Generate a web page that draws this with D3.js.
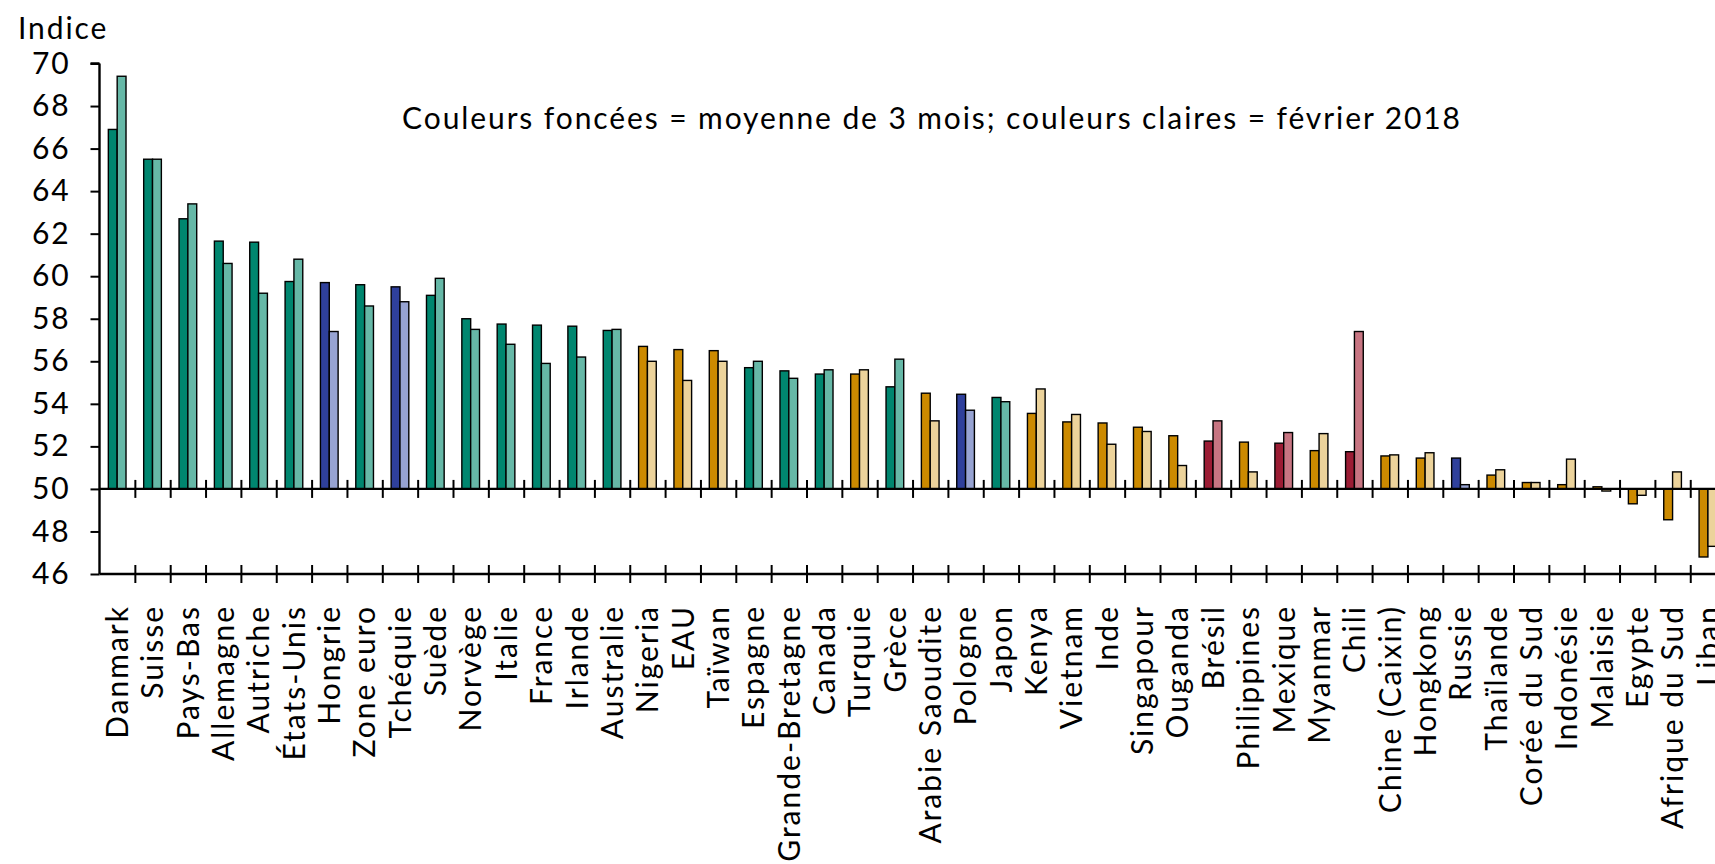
<!DOCTYPE html>
<html>
<head>
<meta charset="utf-8">
<script src="https://cdn.jsdelivr.net/npm/d3@7"></script>
<style>
  body { margin: 0; background: #fff; overflow: hidden; }
  svg { display: block; font-family: Lato, "Open Sans", sans-serif; }
</style>
</head>
<body>
<div id="chart"></div>
<script>
// pays, dans l'ordre du graphique
const pays = ["Danmark", "Suisse", "Pays-Bas", "Allemagne", "Autriche", "États-Unis", "Hongrie",
    "Zone euro", "Tchéquie", "Suède", "Norvège", "Italie", "France", "Irlande", "Australie",
    "Nigeria", "EAU", "Taïwan", "Espagne", "Grande-Bretagne", "Canada", "Turquie", "Grèce",
    "Arabie Saoudite", "Pologne", "Japon", "Kenya", "Vietnam", "Inde", "Singapour", "Ouganda",
    "Brésil", "Philippines", "Mexique", "Myanmar", "Chili", "Chine (Caixin)", "Hongkong",
    "Russie", "Thaïlande", "Corée du Sud", "Indonésie", "Malaisie", "Egypte", "Afrique du Sud", "Liban"];

// moyenne de 3 mois (couleurs foncées)
const moyenne3m = [66.9, 65.5, 62.7, 61.65, 61.6, 59.75, 59.7, 59.6, 59.5, 59.1, 58.0, 57.75, 57.7,
    57.65, 57.45, 56.7, 56.55, 56.5, 55.7, 55.55, 55.4, 55.4, 54.8, 54.5, 54.45, 54.3, 53.55,
    53.15, 53.1, 52.9, 52.5, 52.25, 52.2, 52.15, 51.8, 51.75, 51.55, 51.45, 51.45, 50.65, 50.3,
    50.2, 50.1, 49.3, 48.55, 46.8];

// février 2018 (couleurs claires)
const fevrier2018 = [69.4, 65.5, 63.4, 60.6, 59.2, 60.8, 57.4, 58.6, 58.8, 59.9, 57.5, 56.8, 55.9,
    56.2, 57.5, 56.0, 55.1, 56.0, 56.0, 55.2, 55.6, 55.6, 56.1, 53.2, 53.7, 54.1, 54.7,
    53.5, 52.1, 52.7, 51.1, 53.2, 50.8, 52.65, 52.6, 57.4, 51.6, 51.7, 50.2, 50.9, 50.3,
    51.4, 49.9, 49.7, 50.8, 47.3];

// groupe de couleur de chaque pays
const groupe = ["v", "v", "v", "v", "v", "v", "b", "v", "b", "v", "v", "v", "v", "v", "v",
    "o", "o", "o", "v", "v", "v", "o", "v", "o", "b", "v", "o", "o", "o", "o", "o",
    "r", "o", "r", "o", "r", "o", "o", "b", "o", "o", "o", "o", "o", "o", "o"];

const yTicks = [46, 48, 50, 52, 54, 56, 58, 60, 62, 64, 66, 68, 70];

const couleurs = {
    v: ["#00866f", "#66b8a7"],
    b: ["#2f409c", "#97a3d2"],
    o: ["#cc8a00", "#ecd39b"],
    r: ["#9b1c34", "#c77582"]
};

const width = 1715;
const height = 864;
const left = 99.5;
const step = 35.35;
const fontSize = 30;
const spacing = "1.9px";

const svg = d3.select("#chart").append("svg")
    .attr("width", width)
    .attr("height", height);

// scales
const x = d3.scaleBand()
    .domain(pays)
    .range([left, left + step * pays.length])
    .paddingInner(0)
    .paddingOuter(0);

const xSub = d3.scaleBand()
    .domain([0, 1])
    .range([0, x.bandwidth()])
    .paddingOuter(1);

const y = d3.scaleLinear()
    .domain([46, 70])
    .range([574, 63.5]);

// frontières entre pays, pour les graduations
const xEdges = d3.scaleLinear()
    .domain([0, pays.length])
    .range(x.range());

// y axis
const yaxis = d3.axisLeft(y)
    .tickValues(yTicks)
    .tickSize(9)
    .tickPadding(20)
    .tickFormat(d3.format("d"));

svg.append("g")
    .attr("class", "axis")
    .attr("transform", "translate(" + left + ",0)")
    .call(yaxis)
    .call(g => g.select(".domain").attr("d", "M0," + y(46) + "V" + y(70) + "M-9," + y(70) + "H0"))
    .selectAll("text")
    .style("font-size", fontSize + "px")
    .style("font-family", "Lato")
    .style("letter-spacing", spacing);

// bars
const rows = pays.map((p, i) => ({ pays: p, valeurs: [moyenne3m[i], fevrier2018[i]], groupe: groupe[i] }));

const pairs = svg.append("g").selectAll("g")
    .data(rows)
    .join("g")
    .attr("transform", d => "translate(" + x(d.pays) + ",0)");

pairs.selectAll("rect")
    .data(d => d.valeurs.map((v, k) => ({ v: v, k: k, groupe: d.groupe })))
    .join("rect")
    .attr("x", d => xSub(d.k))
    .attr("width", xSub.bandwidth())
    .attr("y", d => Math.min(y(d.v), y(50)))
    .attr("height", d => Math.abs(y(d.v) - y(50)))
    .attr("fill", d => couleurs[d.groupe][d.k])
    .attr("stroke", "#000")
    .attr("stroke-width", 1.4);

// axe horizontal à 50 (graduations croisées)
const axe50 = d3.axisBottom(xEdges)
    .tickValues(d3.range(1, pays.length + 1))
    .tickFormat("");

svg.append("g")
    .attr("transform", "translate(0," + y(50) + ")")
    .call(axe50)
    .call(g => g.select(".domain").attr("d", "M" + left + ",0H" + width))
    .call(g => g.selectAll(".tick line").attr("y1", -9).attr("y2", 9));

// axe du bas à 46 avec les noms de pays
const axeBas = d3.axisBottom(xEdges)
    .tickValues(d3.range(1, pays.length + 1))
    .tickFormat("");

svg.append("g")
    .attr("transform", "translate(0," + y(46) + ")")
    .call(axeBas)
    .call(g => g.select(".domain").attr("d", "M" + left + ",0H" + width))
    .call(g => g.selectAll(".tick line").attr("y1", -9).attr("y2", 9));

const labels = d3.axisBottom(x).tickSize(0);

svg.append("g")
    .attr("transform", "translate(0," + y(46) + ")")
    .call(labels)
    .call(g => g.select(".domain").remove())
    .selectAll("text")
    .attr("transform", "rotate(-90)")
    .attr("x", -31)
    .attr("y", 0)
    .attr("dy", "0.36em")
    .style("text-anchor", "end")
    .style("font-size", fontSize + "px")
    .style("font-family", "Lato")
    .style("letter-spacing", "2px");

svg.selectAll(".axis path, .axis line, .tick line")
    .attr("stroke", "#000")
    .attr("stroke-width", 2);
svg.selectAll(".domain").attr("stroke", "#000").attr("stroke-width", 2.4);

// textes
svg.append("text")
    .attr("x", 18)
    .attr("y", 39)
    .style("font-size", fontSize + "px")
    .style("letter-spacing", spacing)
    .text("Indice");

svg.append("text")
    .attr("x", 932)
    .attr("y", 129)
    .style("text-anchor", "middle")
    .style("font-size", fontSize + "px")
    .style("letter-spacing", spacing)
    .text("Couleurs foncées = moyenne de 3 mois; couleurs claires = février 2018");
</script>
</body>
</html>
